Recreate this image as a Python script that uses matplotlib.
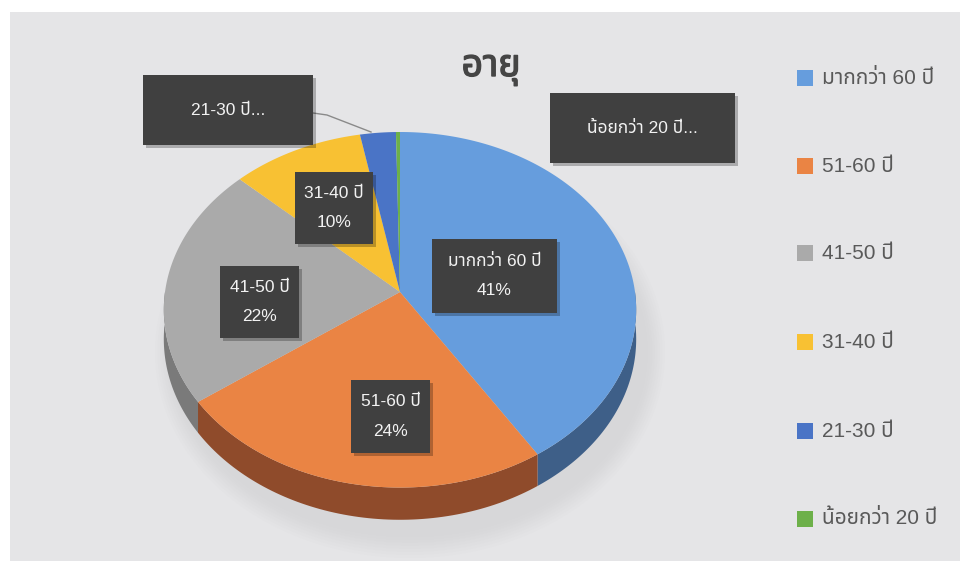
import numpy as np
import matplotlib
matplotlib.use("Agg")
import matplotlib.pyplot as plt
import matplotlib.patheffects as pe
from matplotlib.patches import Polygon, Rectangle, Ellipse
from matplotlib import font_manager

# age groups, clockwise from 12 o'clock
labels = ["มากกว่า 60 ปี", "51-60 ปี", "41-50 ปี", "31-40 ปี", "21-30 ปี", "น้อยกว่า 20 ปี"]
values = [41, 24, 22, 10, 2.7, 0.3]
top_colors = ["#669ddd", "#ea8444", "#aaaaaa", "#f8c133", "#4a74c6", "#6db04a"]
side_colors = ["#3e5f88", "#8f4b2b", "#7a7a7a", "#b08a20", "#2f4d88", "#4a7a32"]

# latin glyphs from an Arial-like face, thai glyphs from the first thai face found
installed = {f.name for f in font_manager.fontManager.ttflist}
thai_face = next((n for n in ["Noto Sans Thai", "IBM Plex Sans Thai", "Loma"] if n in installed), "Loma")
plt.rcParams["font.family"] = ["Liberation Sans", thai_face, "DejaVu Sans"]

fig = plt.figure(figsize=(9.6, 5.61), dpi=100)
ax = fig.add_axes([0, 0, 1, 1])
ax.set_xlim(0, 960)
ax.set_ylim(561, 0)
ax.axis("off")

# chart area
ax.add_patch(Rectangle((10, 12), 960, 560, facecolor="#e5e5e7", edgecolor="none", zorder=0))

# perspective disk
cx, cy = 400, 292
rx, ry = 235, 176
k = 0.10
depth = 29


def project(theta, z=0.0):
    X, Y = np.cos(theta), np.sin(theta)
    s = 1.0 / (1.0 + k * Y)
    return cx + rx * X * s, cy - ry * Y * s + depth * z * s


# soft shadow beneath the pie
for i in range(8):
    ax.add_patch(Ellipse((cx + 10, cy + 60), 2 * rx + 40 - 5 * i, 2 * ry + 60 - 6 * i,
                         facecolor="#c8c8ca", alpha=0.06, edgecolor="none", zorder=1))

fracs = np.array(values) / sum(values)
start = np.pi / 2
bounds = []
for f in fracs:
    end = start - 2 * np.pi * f
    bounds.append((start, end))
    start = end

# sides of the front half
for (a0, a1), col in zip(bounds, side_colors):
    lo, hi = min(a0, a1), max(a0, a1)
    # front half lies at angles in (-pi, 0) mod 2pi
    for base in (0, -2 * np.pi, 2 * np.pi):
        s0 = max(lo, -np.pi + base)
        s1 = min(hi, 0 + base)
        if s1 > s0:
            t = np.linspace(s0, s1, 80)
            top = [project(v) for v in t]
            bot = [project(v, 1.0) for v in t[::-1]]
            ax.add_patch(Polygon(top + bot, closed=True, facecolor=col, edgecolor="none", zorder=2))

# top faces
for (a0, a1), col in zip(bounds, top_colors):
    t = np.linspace(a0, a1, max(3, int(abs(a1 - a0) * 60)))
    pts = [(cx, cy)] + [project(v) for v in t]
    ax.add_patch(Polygon(pts, closed=True, facecolor=col, edgecolor="none", zorder=3))


def label_box(x0, y0, x1, y1, text):
    ax.add_patch(Rectangle((x0 + 3, y0 + 3), x1 - x0, y1 - y0, facecolor="#000000",
                           alpha=0.25, edgecolor="none", zorder=5))
    ax.add_patch(Rectangle((x0, y0), x1 - x0, y1 - y0, facecolor="#404040",
                           edgecolor="none", zorder=6))
    ax.text((x0 + x1) / 2, (y0 + y1) / 2, text, color="#f2f2f2", fontsize=12.5,
            ha="center", va="center", linespacing=2.2, zorder=7)


pct = [f"{round(v / sum(values) * 100):.0f}%" for v in values]
label_box(432, 239, 557, 313, f"{labels[0]}\n{pct[0]}")
label_box(351, 380, 430, 453, f"{labels[1]}\n{pct[1]}")
label_box(220, 266, 299, 338, f"{labels[2]}\n{pct[2]}")
label_box(295, 172, 373, 244, f"{labels[3]}\n{pct[3]}")
label_box(143, 75, 313, 145, labels[4] + "...")
label_box(550, 93, 735, 163, labels[5] + "...")

# leader line for the thin slice
ax.plot([313, 327, 371], [113, 115, 132], color="#8a8a8a", lw=1, zorder=4)

ax.text(491, 68, "อายุ", fontsize=27, fontweight="bold", color="#454545",
        ha="center", va="center", zorder=7,
        path_effects=[pe.withStroke(linewidth=1.0, foreground="#454545")])

# legend
legend_y = [78, 166, 253, 342, 431, 519]
for y, lab, col in zip(legend_y, labels, top_colors):
    ax.add_patch(Rectangle((797, y - 8), 16, 16, facecolor=col, edgecolor="none", zorder=7))
    ax.text(822, y, lab, fontsize=15, color="#595959", ha="left", va="center", zorder=7)

fig.savefig("out.png", dpi=100)
